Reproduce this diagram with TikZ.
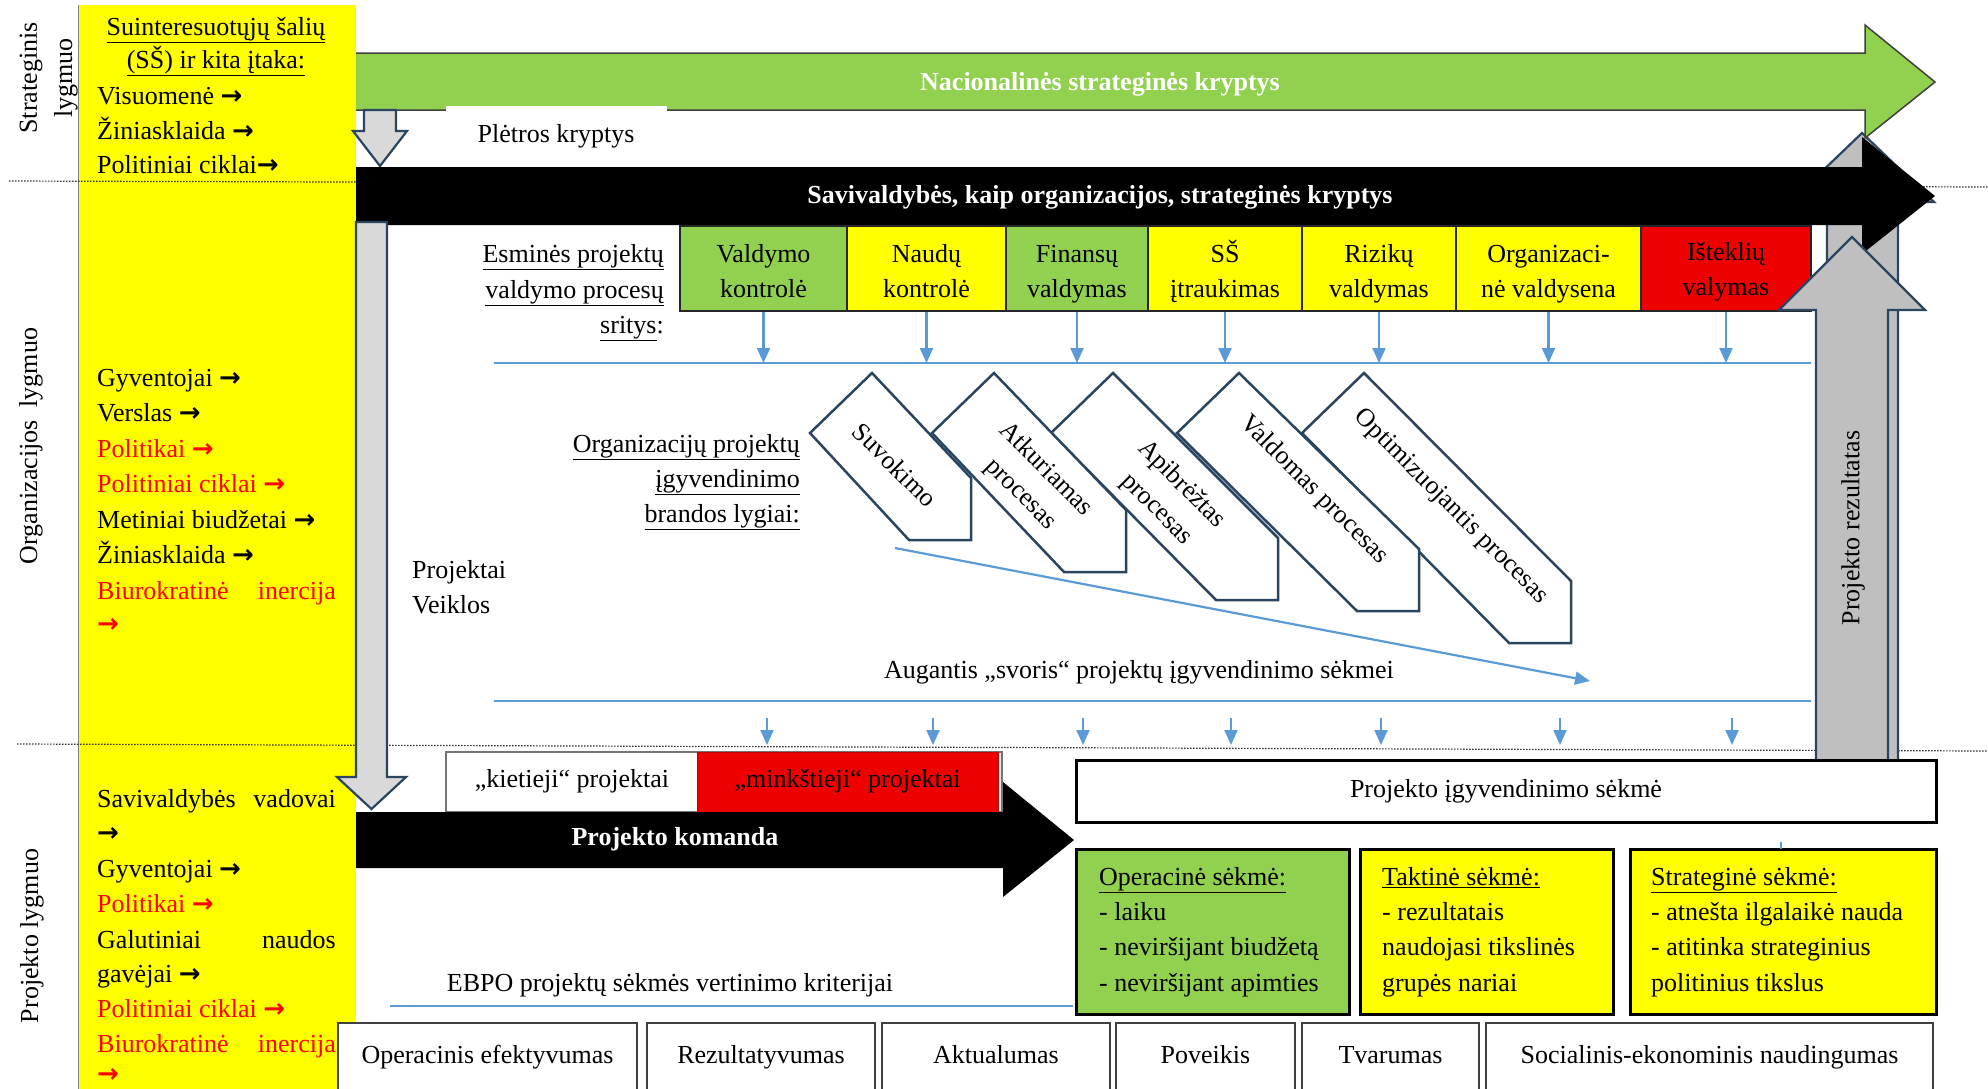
\documentclass[tikz,border=0pt]{standalone}
\usepackage{fontspec}
\setmainfont{Liberation Serif}
\newfontfamily\arrfont{DejaVu Sans}
\usetikzlibrary{arrows.meta}
\definecolor{cgreen}{HTML}{92D050}
\definecolor{cyellow}{HTML}{FFFF00}
\definecolor{cred}{HTML}{EE0000}
\definecolor{tred}{HTML}{FF0000}
\definecolor{lblue}{HTML}{5B9BD5}
\definecolor{agray}{HTML}{D9D9D9}
\definecolor{bgray}{HTML}{BFBFBF}
\definecolor{aedge}{HTML}{2A4560}
\newcommand\fs{\fontsize{26}{35}\selectfont}
\newcommand\ra{{\arrfont\bfseries →}}
\begin{document}
\begin{tikzpicture}[x=1pt,y=-1pt,
  txt/.style={font=\fs, inner sep=0pt},
  lbl/.style={txt, anchor=base west},
  lblr/.style={txt, anchor=base east},
  lblc/.style={txt, anchor=base},
  rl/.style={lbl, text=tred},
  rlr/.style={lblr, text=tred},
  garrow/.style={draw=aedge, line width=2.2pt, fill=agray, line join=miter},
  rarrow/.style={draw=aedge, line width=2.2pt, fill=bgray, line join=miter},
  pbox/.style={draw=black!85, line width=1.3pt, inner sep=0pt, minimum height=85pt},
  chev/.style={draw=aedge, line width=2.5pt, fill=white, line join=miter},
  blu/.style={draw=lblue, line width=2.2pt},
  bluarr/.style={blu, -{Triangle[length=15pt,width=13pt]}},
  dots/.style={draw=black!80, line width=1.2pt, dash pattern=on 1.5pt off 1.5pt},
  sbox/.style={draw=black, line width=3pt, inner sep=0pt},
  cbox/.style={draw=black!75, line width=1.8pt, fill=white, inner sep=0pt, minimum height=80pt},
  rot/.style={txt, rotate=90, inner sep=0pt},
  chtxt/.style={font=\fs, rotate=-45, align=center, inner sep=0pt},
]
\path[use as bounding box] (0,0) rectangle (1988,1088);
\clip (0,0) rectangle (1988,1088);
\fill[white] (0,0) rectangle (1988,1088);

% yellow column
\fill[cyellow] (78,5) rectangle (356,1100);
\draw[black!50, line width=1pt] (78,5) -- (78,1100);

% dotted level separators
\coordinate (d1a) at (9,181); \coordinate (d1b) at (1988,187);
\coordinate (d2a) at (17,744); \coordinate (d2b) at (1988,751);
\draw[dots] (d1a) -- (d1b);
\draw[dots] (d2a) -- (d2b);

% level labels
\node[rot] (lv1a) at (31,78) {Strateginis};
\node[rot] (lv1b) at (66,78) {lygmuo};
\node[rot] (lv2) at (31,446) {Organizacijos~ lygmuo};
\node[rot] (lv3) at (32,936) {Projekto lygmuo};

% back result arrow
\draw[rarrow] (1827,762) -- (1827,202) -- (1790,202) -- (1862,133) -- (1934,202) -- (1898,202) -- (1898,762) -- cycle;

% green arrow
\fill[cgreen] (356,53) -- (1865,53) -- (1865,25) -- (1935,82) -- (1865,138) -- (1865,110) -- (356,110) -- cycle;
\draw[black!75, line width=1.5pt, line join=miter] (356,53) -- (1865,53) -- (1865,25) -- (1935,82) -- (1865,138) -- (1865,110) -- (356,110);
\node[lblc, font=\fs\bfseries, text=white] (nat) at (1100,90) {Nacionalinės strateginės kryptys};

% Pletros
\fill[white] (446,106) rectangle (667,166);
\node[lblc] (plet) at (556,142) {Plėtros kryptys};

% small gray arrow
\draw[garrow] (364,110) -- (396,110) -- (396,131) -- (407,131) -- (380,166) -- (353,131) -- (364,131) -- cycle;

% black arrow
\fill[black] (356,167) -- (1862,167) -- (1862,137) -- (1935,196) -- (1862,254) -- (1862,225) -- (356,225) -- cycle;
\node[lblc, font=\fs\bfseries, text=white] (sav) at (1100,203) {Savivaldybės, kaip organizacijos, strateginės kryptys};

% process area boxes
\node[pbox, fill=cgreen, minimum width=167pt] (b1) at (763.5,268.5) {};
\node[pbox, fill=cyellow, minimum width=159pt] (b2) at (926.5,268.5) {};
\node[pbox, fill=cgreen, minimum width=142pt] (b3) at (1077,268.5) {};
\node[pbox, fill=cyellow, minimum width=154pt] (b4) at (1225,268.5) {};
\node[pbox, fill=cyellow, minimum width=154pt] (b5) at (1379,268.5) {};
\node[pbox, fill=cyellow, minimum width=185pt] (b6) at (1548.5,268.5) {};
\node[pbox, fill=cred, minimum width=170pt] (b7) at (1726,268.5) {};
\node[lblc] (b1a) at (763.5,262) {Valdymo};   \node[lblc] (b1b) at (763.5,297) {kontrolė};
\node[lblc] (b2a) at (926.5,262) {Naudų};     \node[lblc] (b2b) at (926.5,297) {kontrolė};
\node[lblc] (b3a) at (1077,262) {Finansų};    \node[lblc] (b3b) at (1077,297) {valdymas};
\node[lblc] (b4a) at (1225,262) {SŠ};         \node[lblc] (b4b) at (1225,297) {įtraukimas};
\node[lblc] (b5a) at (1379,262) {Rizikų};     \node[lblc] (b5b) at (1379,297) {valdymas};
\node[lblc] (b6a) at (1548.5,262) {Organizaci-}; \node[lblc] (b6b) at (1548.5,297) {nė valdysena};
\node[lblc] (b7a) at (1726,260) {Išteklių};   \node[lblc] (b7b) at (1726,295) {valymas};

% front result arrow
\draw[rarrow] (1816,762) -- (1816,310) -- (1779,310) -- (1852,237) -- (1925,310) -- (1888,310) -- (1888,762) -- cycle;
\node[rot] (rez) at (1853,528) {Projekto rezultatas};

% big left gray arrow
\draw[garrow] (356,222) -- (387,222) -- (387,777) -- (406,777) -- (371.5,809) -- (337,777) -- (356,777) -- cycle;

% yellow column texts
\node[lblc] (s1) at (216,35) {\underline{Suinteresuotųjų šalių}};
\node[lblc] (s2) at (216,68) {\underline{(SŠ) ir kita įtaka:}};
\node[lbl] (s3) at (97,104) {Visuomenė \ra};
\node[lbl] (s4) at (97,139) {Žiniasklaida \ra};
\node[lbl] (s5) at (97,173) {Politiniai ciklai\ra};

\node[lbl] (o1) at (97,386) {Gyventojai \ra};
\node[lbl] (o2) at (97,421) {Verslas \ra};
\node[rl] (o3) at (97,457) {Politikai \ra};
\node[rl] (o4) at (97,492) {Politiniai ciklai \ra};
\node[lbl] (o5) at (97,528) {Metiniai biudžetai \ra};
\node[lbl] (o6) at (97,563) {Žiniasklaida \ra};
\node[rl] (o7) at (97,599) {Biurokratinė};
\node[rlr] (o7b) at (336,599) {inercija};
\node[rl] (o8) at (97,632) {\ra};

\node[lbl] (p1) at (97,807) {Savivaldybės};
\node[lblr] (p1b) at (336,807) {vadovai};
\node[lbl] (p2) at (97,841) {\ra};
\node[lbl] (p3) at (97,877) {Gyventojai \ra};
\node[rl] (p4) at (97,912) {Politikai \ra};
\node[lbl] (p5) at (97,948) {Galutiniai};
\node[lblr] (p5b) at (336,948) {naudos};
\node[lbl] (p6) at (97,982) {gavėjai \ra};
\node[rl] (p7) at (97,1017) {Politiniai ciklai \ra};
\node[rl] (p8) at (97,1052) {Biurokratinė};
\node[rlr] (p8b) at (336,1052) {inercija};
\node[rl] (p9) at (97,1082) {\ra};

% labels left of process area
\node[lblr] (e1) at (664,262) {\underline{Esminės projektų}};
\node[lblr] (e2) at (664,298) {\underline{valdymo procesų}};
\node[lblr] (e3) at (664,333) {\underline{sritys}:};
\node[lblr] (m1) at (800,452) {\underline{Organizacijų projektų}};
\node[lblr] (m2) at (800,487) {\underline{įgyvendinimo}};
\node[lblr] (m3) at (800,522) {\underline{brandos lygiai:}};
\node[lbl] (pv1) at (412,578) {Projektai};
\node[lbl] (pv2) at (412,613) {Veiklos};

% blue lines and arrows
\coordinate (tl) at (494,363); \coordinate (tr) at (1811,363);
\draw[blu] (tl) -- (tr);
\foreach \b in {b1,b2,b3,b4,b5,b6,b7}{
  \draw[bluarr] (\b.south) -- (\b.south |- tl);
}
\coordinate (ll) at (494,701); \coordinate (lr) at (1811,701);
\draw[blu] (ll) -- (lr);
\foreach \i/\x in {1/767,2/933,3/1083,4/1231,5/1381,6/1560,7/1732}{
  \coordinate (la\i) at (\x,718); \coordinate (lb\i) at (\x,745);
  \draw[bluarr] (la\i) -- (lb\i);
}

% maturity chevrons
\draw[chev] (1364,373) -- (1571,581) -- (1571,643) -- (1509,643) -- (1302,433) -- cycle;
\draw[chev] (1239,373) -- (1419,549) -- (1419,611) -- (1357,611) -- (1177,433) -- cycle;
\draw[chev] (1113,373) -- (1278,538) -- (1278,600) -- (1216,600) -- (1051,433) -- cycle;
\draw[chev] (994,373) -- (1126,510) -- (1126,572) -- (1064,572) -- (932,433) -- cycle;
\draw[chev] (872,373) -- (971,478) -- (971,540) -- (909,540) -- (810,433) -- cycle;
\node[chtxt] (c1) at (895,465) {Suvokimo};
\node[chtxt] (c2) at (1033,482) {Atkuriamas\\procesas};
\node[chtxt] (c3) at (1169,497) {Apibrėžtas\\procesas};
\node[chtxt] (c4) at (1314,490) {Valdomas procesas};
\node[chtxt] (c5) at (1451,507) {Optimizuojantis procesas};

\coordinate (ds) at (895,548); \coordinate (de) at (1590,681);
\draw[bluarr] (ds) -- (de);
\node[lblc] (aug) at (1139,678) {Augantis „svoris“ projektų įgyvendinimo sėkmei};

% project level
\node[draw=black!55, line width=1.5pt, fill=white, inner sep=0pt, minimum width=556pt, minimum height=60pt] (kiet) at (724,782) {};
\node[draw=cred!80!black, line width=1pt, fill=cred, inner sep=0pt, minimum width=301pt, minimum height=60pt] (mink) at (847.5,782) {};
\node[lblc] (kt) at (572,787) {„kietieji“ projektai};
\node[lblc] (mt) at (847.5,787) {„minkštieji“ projektai};

\fill[black] (356,812) -- (1003,812) -- (1003,782) -- (1074,840) -- (1003,897) -- (1003,868) -- (356,868) -- cycle;
\node[lblc, font=\fs\bfseries, text=white] (kom) at (675,845) {Projekto komanda};

\node[sbox, fill=white, minimum width=860pt, minimum height=62pt] (pis) at (1506,791) {};
\node[lblc] (pist) at (1506,797) {Projekto įgyvendinimo sėkmė};

\node[sbox, fill=cgreen, minimum width=273pt, minimum height=165pt] (ops) at (1212.5,931.5) {};
\node[sbox, fill=cyellow, minimum width=253pt, minimum height=165pt] (tas) at (1486.5,931.5) {};
\node[sbox, fill=cyellow, minimum width=306pt, minimum height=165pt] (sts) at (1783,931.5) {};
\draw[blu] (1781,842) -- (1781,849);

\node[lbl] (op1) at (1099,885) {\underline{Operacinė sėkmė:}};
\node[lbl] (op2) at (1099,920) {- laiku};
\node[lbl] (op3) at (1099,955) {- neviršijant biudžetą};
\node[lbl] (op4) at (1099,991) {- neviršijant apimties};
\node[lbl] (ta1) at (1382,885) {\underline{Taktinė sėkmė:}};
\node[lbl] (ta2) at (1382,920) {- rezultatais};
\node[lbl] (ta3) at (1382,955) {naudojasi tikslinės};
\node[lbl] (ta4) at (1382,991) {grupės nariai};
\node[lbl] (st1) at (1651,885) {\underline{Strateginė sėkmė:}};
\node[lbl] (st2) at (1651,920) {- atnešta ilgalaikė nauda};
\node[lbl] (st3) at (1651,955) {- atitinka strateginius};
\node[lbl] (st4) at (1651,991) {politinius tikslus};

% EBPO criteria
\node[lblc] (ebpo) at (670,991) {EBPO projektų sėkmės vertinimo kriterijai};
\coordinate (eb1) at (390,1006); \coordinate (eb2) at (1073,1006);
\draw[blu] (eb1) -- (eb2);

\node[cbox, minimum width=299pt, anchor=north] (k1) at (487.5,1022) {};
\node[cbox, minimum width=228pt, anchor=north] (k2) at (761,1022) {};
\node[cbox, minimum width=228pt, anchor=north] (k3) at (996,1022) {};
\node[cbox, minimum width=179pt, anchor=north] (k4) at (1205.5,1022) {};
\node[cbox, minimum width=177pt, anchor=north] (k5) at (1390.5,1022) {};
\node[cbox, minimum width=447pt, anchor=north] (k6) at (1709.5,1022) {};
\node[lblc] (k1t) at (487.5,1063) {Operacinis efektyvumas};
\node[lblc] (k2t) at (761,1063) {Rezultatyvumas};
\node[lblc] (k3t) at (996,1063) {Aktualumas};
\node[lblc] (k4t) at (1205.5,1063) {Poveikis};
\node[lblc] (k5t) at (1390.5,1063) {Tvarumas};
\node[lblc] (k6t) at (1709.5,1063) {Socialinis-ekonominis naudingumas};
\end{tikzpicture}
\end{document}
